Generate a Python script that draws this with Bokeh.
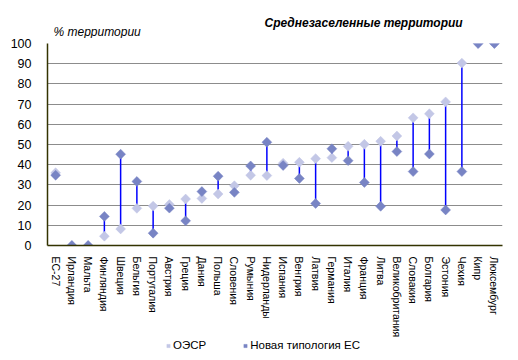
import math
from bokeh.plotting import figure
from bokeh.layouts import column
from bokeh.models import (ColumnDataSource, Legend, LegendItem, Label, FixedTicker,
                          FactorRange, Range1d)
from bokeh.embed import file_html
from bokeh.resources import INLINE

countries = ["ЕС-27", "Ирландия", "Мальта", "Финляндия", "Швеция", "Бельгия", "Португалия",
             "Австрия", "Греция", "Дания", "Польша", "Словения", "Румыния", "Нидерланды",
             "Испания", "Венгрия", "Латвия", "Германия", "Италия", "Франция", "Литва",
             "Великобритания", "Словакия", "Болгария", "Эстония", "Чехия", "Кипр", "Люксембург"]
oecd = [36, 0, 0, 4.6, 8.2, 18.4, 19.5, 20.3, 23, 23.3, 25.5, 29.6, 34.8, 34.6,
        40.7, 41.2, 43, 43.5, 49.1, 50.1, 51.6, 54.2, 63.2, 65.2, 71.1, 90.3, 100, 100]
eu = [34.8, 0, 0, 14.4, 45.2, 31.7, 6.1, 18.5, 12.2, 26.7, 34.3, 26.3, 39.4, 51.1,
      39.6, 33.2, 20.8, 47.9, 42, 31.2, 19.4, 46.5, 36.6, 45.3, 17.6, 36.6, 100, 100]
y_ticks = [0, 10, 20, 30, 40, 50, 60, 70, 80, 90, 100]
title_text = "Среднезаселенные территории"
unit_text = "% территории"
legend_labels = ["ОЭСР", "Новая типология ЕС"]

LIGHT = "#c3c7e6"
DARK = "#7884c4"
FONT = "Liberation Sans"

# ---- top strip with the two titles (frame is aligned with the main plot's frame) ----
p_top = figure(width=510, height=38, x_axis_type=None, y_axis_type=None,
               output_backend="svg", toolbar_location=None, min_border=0)
p_top.outline_line_color = None
p_top.add_layout(Label(x=6, y=7, x_units="screen", y_units="screen", text=unit_text,
                       text_font=FONT, text_font_style="italic", text_font_size="12px",
                       text_baseline="middle", text_color="black"))
p_top.add_layout(Label(x=217, y=16, x_units="screen", y_units="screen", text=title_text,
                       text_font=FONT, text_font_style="bold italic", text_font_size="12px",
                       text_baseline="middle", text_color="black"))

# ---- main chart ----
src = ColumnDataSource(dict(c=countries, o=oecd, e=eu))

p = figure(x_range=FactorRange(*countries, range_padding=0), y_range=Range1d(0, 100),
           width=510, height=302, output_backend="svg", toolbar_location=None,
           min_border_left=47, min_border_right=8, min_border_top=5, min_border_bottom=94)
p.x_range.factor_padding = 0
p.outline_line_color = None

p.segment(x0="c", y0="o", x1="c", y1="e", source=src, line_color="#0000ff", line_width=1.5)
p.scatter(x="c", y="o", source=src, marker="square", angle=math.pi / 4, size=7,
          fill_color=LIGHT, line_color=LIGHT, line_width=0.5)
p.scatter(x="c", y="e", source=src, marker="square", angle=math.pi / 4, size=7,
          fill_color=DARK, line_color=DARK, line_width=0.5)

p.yaxis.ticker = FixedTicker(ticks=y_ticks)
p.ygrid.ticker = FixedTicker(ticks=y_ticks)
p.ygrid.grid_line_color = "#8c8c8c"
p.ygrid.grid_line_width = 1
p.xgrid.grid_line_color = None

for ax in (p.xaxis[0], p.yaxis[0]):
    ax.axis_line_color = "#333300"
    ax.axis_line_width = 1.5
    ax.major_tick_line_color = None
    ax.minor_tick_line_color = None
    ax.major_label_text_font = FONT
    ax.major_label_text_color = "black"

p.yaxis.major_label_text_font_size = "12.5px"
p.yaxis.major_label_standoff = 10
p.xaxis.major_label_text_font_size = "10.5px"
p.xaxis.major_label_orientation = "vertical"
p.xaxis.major_label_standoff = 5

# ---- legend strip ----
p_leg = figure(width=510, height=20, x_axis_type=None, y_axis_type=None,
               x_range=Range1d(0, 1), y_range=Range1d(0, 1),
               output_backend="svg", toolbar_location=None, min_border=0)
p_leg.outline_line_color = None
nan = float("nan")
r_light = p_leg.scatter(x=[nan], y=[nan], marker="square", angle=math.pi / 4, size=3.2,
                        fill_color=LIGHT, line_color=LIGHT, line_width=0.5)
r_dark = p_leg.scatter(x=[nan], y=[nan], marker="square", angle=math.pi / 4, size=3.2,
                       fill_color=DARK, line_color=DARK, line_width=0.5)
lg = Legend(items=[LegendItem(label=legend_labels[0], renderers=[r_light]),
                   LegendItem(label=legend_labels[1], renderers=[r_dark])],
            location=(117, 9), orientation="horizontal", padding=0, margin=0, spacing=35,
            glyph_width=8, glyph_height=11, label_standoff=1,
            label_text_font=FONT, label_text_font_size="11.5px",
            label_text_color="black", background_fill_alpha=0,
            border_line_alpha=0, label_height=11)
p_leg.add_layout(lg)

layout = column(p_top, p, p_leg, spacing=0)
open("out.html", "w").write(file_html(layout, INLINE))
